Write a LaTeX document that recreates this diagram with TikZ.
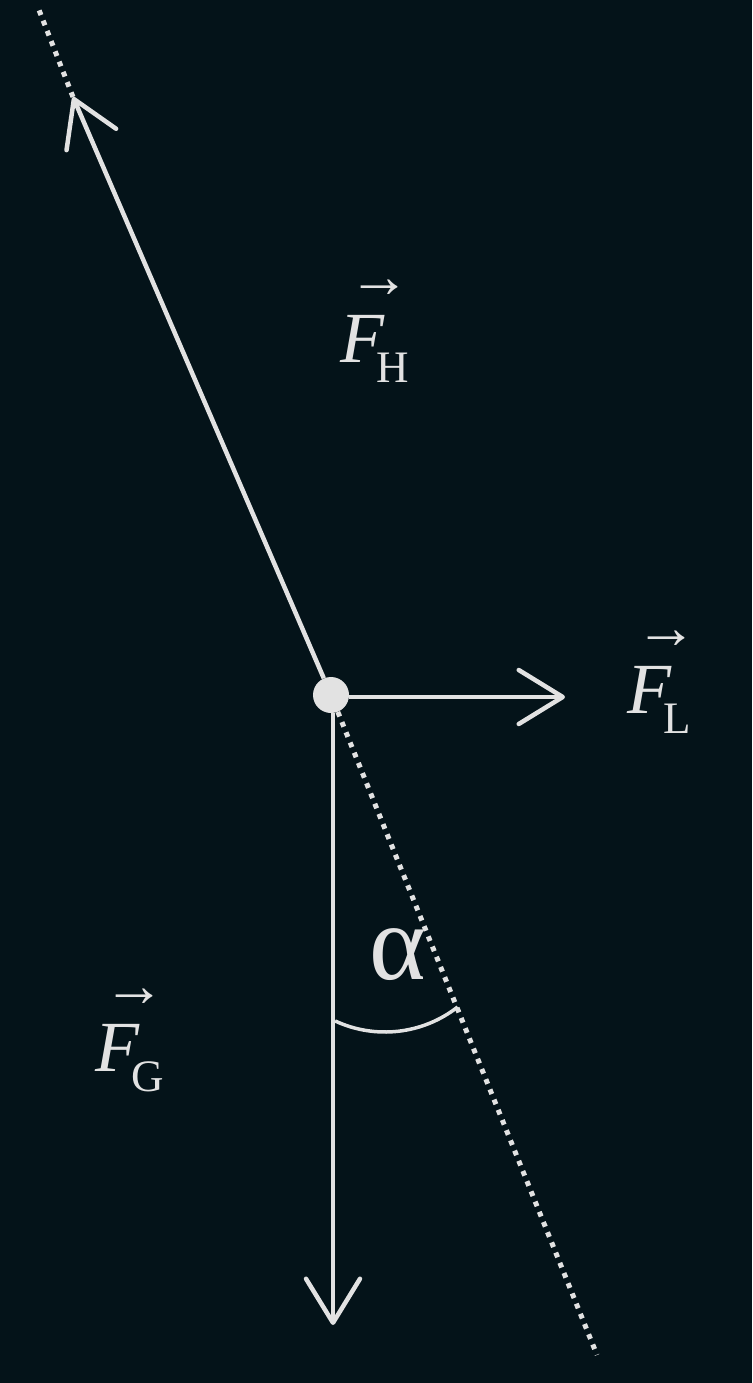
\documentclass[tikz,border=0pt]{standalone}
\usepackage{fontspec}
\setmainfont{Liberation Serif}
\usetikzlibrary{arrows.meta}
\definecolor{bg}{RGB}{4,19,25}
\definecolor{fg}{RGB}{226,226,226}
\newcommand{\flab}[1]{\rlap{\hspace{0.11em}\raisebox{0.89em}{\fontsize{62}{66}\selectfont →}}\textit{F}\kern-0.12em\raisebox{-0.28em}{\fontsize{45}{50}\selectfont #1}}
\begin{document}
\begin{tikzpicture}[x=1pt,y=-1pt,
  line/.style={draw=fg, line width=4.5pt},
  tip/.style={-{Straight Barb[length=44pt,width=54pt,round]}},
  dots/.style={draw=fg, line width=5pt, dash pattern=on 5pt off 6pt},
  lab/.style={text=fg, inner sep=0pt, anchor=base west, font=\fontsize{72}{80}\selectfont}]
\fill[bg] (0,0) rectangle (752,1383);
\useasboundingbox (0,0) rectangle (752,1383);
\node[circle, fill=fg, minimum size=36pt, inner sep=0pt] (dot) at (331,695) {};
\coordinate (up) at (73,97);
\coordinate (upend) at (39,10);
\coordinate (right) at (565,697);
\coordinate (down) at (333,1325);
\coordinate (dd) at (597,1355);
\coordinate (arcc) at (385,914);
\draw[line, tip] (dot) -- (up);
\draw[dots] (up) -- (upend);
\draw[line, tip] (dot.east |- right) -- (right);
\draw[line, tip] (dot.south -| down) -- (down);
\draw[dots] (dot) -- (dd);
\draw[draw=fg, line width=3.5pt] ([shift={(115:118)}]arcc) arc[start angle=115, end angle=52, radius=118];
\node[lab] (fh) at (340,362) {\flab{H}};
\node[lab] (fl) at (627,713) {\flab{L}};
\node[lab] (fg) at (95,1071) {\flab{G}};
\node[text=fg, inner sep=0pt, font=\fontsize{108}{112}\selectfont] (alpha) at (398,955) {α};
\end{tikzpicture}
\end{document}
